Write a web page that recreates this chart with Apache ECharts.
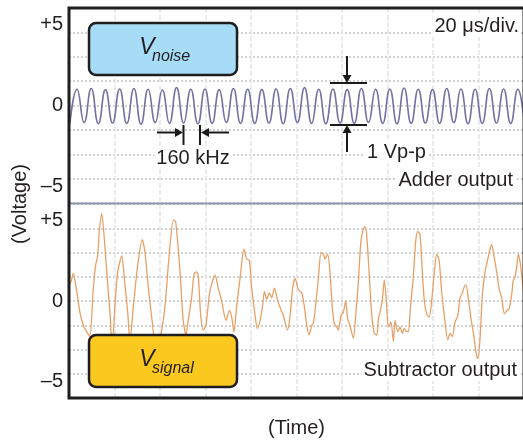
<!DOCTYPE html>
<html>
<head>
<meta charset="utf-8">
<script src="https://cdn.jsdelivr.net/npm/echarts@6/dist/echarts.min.js"></script>
<style>
  html, body { margin: 0; background: #fff; }
  #chart { width: 523px; height: 440px; }
</style>
</head>
<body>
<div id="chart"></div>
<script>
// time base: 20 us/div, 10 divisions
const timeMax = 200;
const timeStep = 20;

// adder output: 160 kHz ripple, values at successive troughs / peaks (half period apart)
const noiseStart = 0.4;     // us, first trough
const noiseHalfPeriod = 3.125; // us
const noiseV = [
  -1.10, 1.00, -1.05, 1.05, -1.12, 0.98, -1.08, 1.02, -1.10, 1.05, -1.15, 1.00,
  -1.05, 0.95, -1.10, 1.10, -1.08, 1.00, -1.12, 1.02, -1.10, 0.98, -1.05, 1.05,
  -1.10, 1.00, -1.10, 0.98, -1.08, 1.02, -1.12, 1.05, -1.05, 1.10, -1.10, 1.00,
  -1.12, 1.02, -1.08, 0.98, -1.10, 1.05, -1.05, 1.00, -1.10, 1.02, -1.12, 1.08,
  -1.10, 1.00, -1.08, 0.98, -1.10, 1.05, -1.05, 1.02, -1.12, 1.00, -1.10, 1.05,
  -1.08, 1.02, -1.10, 1.00
];

// subtractor output: time (us) and voltage
const sigT = [
  0, 0.9, 1.9, 3.4, 4.8, 6.3, 8.2, 9.2, 10.7, 11.7, 12.6, 13.3, 14.4, 15.5, 16.6, 18.0, 19.0,
  20.2, 21.4, 23.2, 24.3, 25.8, 26.8, 28.3, 30.2, 32.2, 33.4, 34.9, 36.6, 37.8, 40.0,
  42.2, 44.0, 45.9, 46.9, 48.8, 50.2, 51.4, 52.4, 53.9, 55.0, 56.1, 56.8, 57.9, 59.0,
  60.2, 61.7, 63.2, 64.2, 65.6, 67.1, 69.0, 70.5, 71.5, 72.5, 73.7, 75.2, 76.9, 78.1,
  79.3, 80.3, 81.8, 82.8, 84.0, 85.1, 85.9, 86.9, 88.1, 89.1, 90.3, 91.6, 92.8, 94.2,
  96.0, 97.2, 98.3, 99.4, 100.8, 102.3, 103.4, 104.5, 105.5, 106.7, 107.4, 108.4, 109.6,
  110.8, 111.8, 112.5, 113.7, 114.7, 115.7, 116.6, 117.7, 118.4, 119.6, 120.6, 121.6,
  122.5, 123.5, 125.0, 126.0, 127.2, 128.2, 129.1, 130.1, 130.9, 131.9, 133.1, 134.2,
  135.3, 136.0, 136.7, 137.7, 138.6, 139.4, 140.4, 141.5, 142.6, 143.3, 144.5, 145.5,
  146.5, 147.4, 148.5, 149.2, 150.1, 151.4, 152.4, 153.3, 154.3, 155.3, 156.2, 157.2,
  158.3, 159.4, 160.6, 161.6, 162.7, 163.8, 165.3, 166.5, 167.5, 168.5, 169.7, 170.9,
  171.9, 172.9, 173.8, 174.5, 175.5, 176.7, 177.7, 178.8, 179.7, 180.7, 181.7, 182.9,
  184.1, 185.1, 185.8, 187.0, 188.0, 189.0, 190.2, 191.4, 192.4, 193.4, 194.6, 195.3,
  196.1, 196.9, 197.5, 198.3, 199.3, 200
];
const sigV = [
  1.0, 1.2, 1.7, 0.6, -0.7, -1.5, -2.0, -2.2, 0.8, 2.2, 2.8, 4.3, 5.4, 3.9, 1.8, -0.7, -2.8,
  -0.3, 1.8, 2.8, 1.4, -0.7, -2.5, -0.3, 2.2, 3.8, 3.0, 0.8, -1.3, -2.4, -2.3,
  -0.3, 2.8, 5.0, 4.9, 1.8, -1.2, -2.1, -1.2, 0.2, 1.7, 1.8, 1.6, -0.9, -1.8,
  -1.5, 0.4, 1.3, 1.6, 0.8, 0.0, -1.2, -0.6, -1.0, -1.9, -0.3, 1.4, 3.2, 2.6,
  2.5, 0.8, -0.9, -1.7, -1.2, -0.3, 0.6, 0.1, 0.5, 0.2, 0.8, 0.1, -0.4, -0.9,
  -1.8, -0.9, 0.8, 1.4, 0.7, 0.5, -0.3, -1.5, -2.1, -1.5, -1.4, -0.3, 1.4,
  3.0, 2.9, 2.6, 2.9, 1.8, -0.3, -1.4, -1.6, -1.8, -0.9, -0.7, 0.0,
  -1.1, -1.5, -2.3, -0.9, 1.2, 3.5, 4.3, 4.6, 4.0, 1.8, -0.9, -2.0,
  -2.1, -1.1, -0.7, 0.0, 1.3, 0.2, -1.6, -1.3, -2.5, -1.2, -1.9, -1.6,
  -2.0, -1.7, -1.9, -1.9, -0.4, 1.6, 3.7, 4.3, 4.1, 1.8, 0.0, -0.8,
  -1.0, 0.0, 1.8, 2.9, 2.5, 0.6, -1.3, -2.4, -2.0, -2.2, -1.3, -0.9,
  0.2, 0.5, 0.9, 1.0, 0.2, -1.1, -1.9, -3.1, -3.6, -2.3, 0.4, 1.8,
  2.6, 3.2, 3.5, 2.6, 1.8, 0.8, 0.2, -0.8, -0.6, -0.5, 0.4, 1.3,
  1.5, 2.2, 2.9, 2.4, 1.2, 0.2
];

// y ticks that carry a label
const yTickLabels = { '5': '+5', '0': '0', '-5': '\u20135' };

const FONT = '"Liberation Sans", Arial, sans-serif';
const INK = '#231f20';
const FS = 20;

// layout of the two stacked panels
const L = 69, W = 455;
const topPanel = { top: 8, height: 195 };
const botPanel = { top: 204, height: 194 };

const myChart = echarts.init(document.getElementById('chart'));

const noiseData = noiseV.map((v, i) => [noiseStart + i * noiseHalfPeriod, v]);
noiseData.push([timeMax, -0.9]);
const sigData = sigT.map((t, i) => [t, sigV[i]]);

function xAxisFor(gridIndex, extra) {
  return Object.assign({
    gridIndex: gridIndex,
    type: 'value',
    min: 0,
    max: timeMax,
    interval: timeStep,
    axisLine: { show: false },
    axisTick: { show: false },
    axisLabel: { show: false },
    splitLine: { show: true, lineStyle: { color: '#e1e5eb', width: 1.5, type: [5, 2] } }
  }, extra || {});
}

function yAxesFor(gridIndex) {
  return [
    {
      // dotted divisions (8 per panel)
      gridIndex: gridIndex,
      type: 'value',
      position: 'left',
      min: -6,
      max: 6,
      interval: 1.5,
      axisLine: { show: false },
      axisTick: { show: false },
      axisLabel: { show: false },
      splitLine: { show: true, lineStyle: { color: '#c4c4c4', width: 1.5, type: [2, 2] } }
    },
    {
      // labels at +5, 0, -5
      gridIndex: gridIndex,
      type: 'value',
      position: 'left',
      min: -6,
      max: 6,
      interval: 1,
      axisLine: { show: false },
      axisTick: { show: false },
      splitLine: { show: false },
      axisLabel: {
        margin: 6,
        color: INK,
        fontSize: FS,
        fontFamily: FONT,
        formatter: v => yTickLabels[String(v)] || ''
      }
    }
  ];
}

// arrow helper: line from (x1,y1) to (x2,y2) with a head at the end
function arrow(x1, y1, x2, y2) {
  const dx = x2 - x1, dy = y2 - y1;
  const len = Math.sqrt(dx * dx + dy * dy);
  const ux = dx / len, uy = dy / len;
  const hl = 8, hw = 4.5;
  const bx = x2 - ux * hl, by = y2 - uy * hl;
  return [
    { type: 'line', z: 100, shape: { x1: x1, y1: y1, x2: bx, y2: by }, style: { stroke: '#1a1a1a', lineWidth: 2 } },
    { type: 'polygon', z: 100, shape: { points: [[x2, y2], [bx - uy * hw, by + ux * hw], [bx + uy * hw, by - ux * hw]] }, style: { fill: '#1a1a1a' } }
  ];
}

function seg(x1, y1, x2, y2) {
  return { type: 'line', z: 100, shape: { x1: x1, y1: y1, x2: x2, y2: y2 }, style: { stroke: '#1a1a1a', lineWidth: 2 } };
}

function label(text, x, y, align) {
  return {
    type: 'text', z: 100, x: x, y: y,
    style: {
      text: text, fill: INK, fontSize: FS, fontFamily: FONT,
      textAlign: align || 'center', textVerticalAlign: 'middle',
      backgroundColor: '#fff', padding: [1, 2]
    }
  };
}

function vBox(y, fill, sub) {
  return [
    { type: 'rect', z: 100, shape: { x: 89, y: y, width: 148, height: 52, r: 7 }, style: { fill: fill, stroke: '#1e1e1e', lineWidth: 2.5 } },
    { type: 'text', z: 101, x: 147, y: y + 25, style: { text: 'V', fill: INK, fontSize: 23, fontStyle: 'italic', fontFamily: FONT, textAlign: 'center', textVerticalAlign: 'middle' } },
    { type: 'text', z: 101, x: 152, y: y + 34, style: { text: sub, fill: INK, fontSize: 16, fontStyle: 'italic', fontFamily: FONT, textAlign: 'left', textVerticalAlign: 'middle' } }
  ];
}

const graphics = [].concat(
  // outer frame and divider between panels
  [{ type: 'rect', z: 110, shape: { x: L, y: topPanel.top, width: W, height: botPanel.top + botPanel.height - topPanel.top }, style: { fill: 'none', stroke: '#1e1e1e', lineWidth: 3 } }],
  [{ type: 'line', z: 105, shape: { x1: L, y1: 203.5, x2: L + W, y2: 203.5 }, style: { stroke: '#8b99ab', lineWidth: 2 } }],
  vBox(23, '#a6dcf5', 'noise'),
  vBox(335, '#fbc81f', 'signal'),
  // 160 kHz marker
  arrow(157, 132.5, 183, 132.5),
  arrow(229, 132.5, 201, 132.5),
  [seg(183.5, 125, 183.5, 145), seg(200, 125, 200, 145)],
  [label('160 kHz', 193, 158)],
  // 1 Vp-p marker
  [seg(330, 83, 367, 83), seg(330, 125, 367, 125)],
  arrow(347, 56, 347, 83),
  arrow(347, 152, 347, 125),
  [label('1 Vp-p', 365, 152, 'left')],
  [label('20 \u03bcs/div.', 521, 26, 'right')],
  [label('Adder output', 515, 180, 'right')],
  [label('Subtractor output', 519, 370, 'right')],
  [{
    type: 'text', z: 100, x: 20, y: 204, rotation: Math.PI / 2,
    style: { text: '(Voltage)', fill: INK, fontSize: FS, fontFamily: FONT, textAlign: 'center', textVerticalAlign: 'middle' }
  }]
);

const option = {
  animation: false,
  backgroundColor: '#fff',
  grid: [
    { left: L, top: topPanel.top, width: W, height: topPanel.height, outerBoundsMode: 'none' },
    { left: L, top: botPanel.top, width: W, height: botPanel.height, outerBoundsMode: 'none' }
  ],
  xAxis: [
    xAxisFor(0),
    xAxisFor(1, {
      name: '(Time)',
      nameLocation: 'middle',
      nameGap: 20,
      nameTextStyle: { color: INK, fontSize: FS, fontFamily: FONT }
    })
  ],
  yAxis: yAxesFor(0).concat(yAxesFor(1)),
  series: [
    {
      name: 'Adder output',
      type: 'line',
      xAxisIndex: 0,
      yAxisIndex: 0,
      data: noiseData,
      smooth: 0.5,
      showSymbol: false,
      lineStyle: { color: '#7272a0', width: 1.6 }
    },
    {
      name: 'Subtractor output',
      type: 'line',
      xAxisIndex: 1,
      yAxisIndex: 2,
      data: sigData,
      smooth: 0.25,
      showSymbol: false,
      lineStyle: { color: '#e8a066', width: 1.3 }
    }
  ],
  graphic: graphics
};

myChart.setOption(option);
</script>
</body>
</html>
